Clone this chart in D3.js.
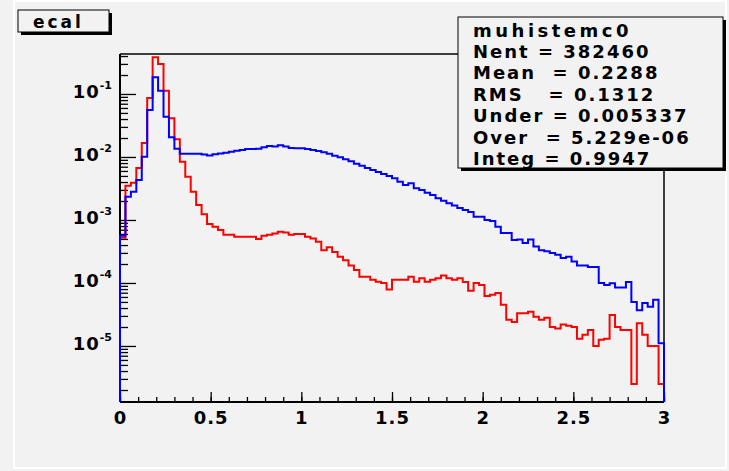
<!DOCTYPE html>
<html>
<head>
<meta charset="utf-8">
<script src="https://cdn.jsdelivr.net/npm/d3@7"></script>
<style>
  body { margin: 0; background: #f2f2f2; }
  svg { display: block; font-family: "DejaVu Sans", sans-serif; font-weight: bold; }
</style>
</head>
<body>
<div id="plot"></div>
<script>
// histogram definition: 100 bins between 0 and 3
const histTitle = "ecal";
const xRange = [0, 3];
const nBins = 100;
const xTickValues = [0, 0.5, 1, 1.5, 2, 2.5, 3];
const xTickLabels = ["0", "0.5", "1", "1.5", "2", "2.5", "3"];
const yDecades = [-1, -2, -3, -4, -5];
const yTickLabels = ["-1", "-2", "-3", "-4", "-5"];

// stats box
const statTitle = "muhistemc0";
const statNames = ["Nent", "Mean ", "RMS  ", "Under", "Over ", "Integ"];
const statValues = ["382460", "0.2288", "0.1312", "0.005337", "5.229e-06", "0.9947"];

// bin contents
const blueCounts = [
  5.6e-4, 2.34e-3, 2.8e-3, 4.3e-3, 0.0101, 0.0557, 0.184, 0.113, 0.0436, 0.0206,
  0.01355, 0.0112, 0.0112, 0.0112, 0.0112, 0.0109, 0.0106, 0.0110, 0.0114, 0.0117,
  0.0121, 0.0126, 0.0129, 0.0134, 0.0134, 0.0135, 0.0143, 0.0149, 0.0146, 0.0153,
  0.0146, 0.0139, 0.0137, 0.0137, 0.0134, 0.0129, 0.0124, 0.0119, 0.0112, 0.0105,
  0.0099, 0.0092, 0.00855, 0.00783, 0.00728, 0.00669, 0.00622, 0.00578, 0.00537, 0.00499,
  0.00459, 0.00406, 0.0036, 0.00383, 0.00318, 0.00299, 0.00271, 0.00249, 0.00221, 0.00202,
  0.00184, 0.00169, 0.00155, 0.00144, 0.00134, 0.00113, 0.00112, 0.0010, 9.6e-4, 7.8e-4,
  6.2e-4, 6.2e-4, 4.8e-4, 4.9e-4, 4.3e-4, 4.9e-4, 3.8e-4, 3.3e-4, 3.2e-4, 3.0e-4,
  2.8e-4, 2.5e-4, 2.6e-4, 2.2e-4, 1.9e-4, 1.9e-4, 1.8e-4, 1.8e-4, 1.0e-4, 9.3e-5,
  9.9e-5, 8.5e-5, 8.5e-5, 1.04e-4, 5.0e-5, 3.7e-5, 4.8e-5, 4.2e-5, 5.4e-5, 1.1e-5
];
const redCounts = [
  5.2e-4, 3.5e-3, 3.9e-3, 6.7e-3, 0.0167, 0.0864, 0.383, 0.30, 0.113, 0.0411,
  0.0191, 0.00842, 0.00487, 0.00281, 0.00173, 0.00123, 8.6e-4, 7.8e-4, 6.9e-4, 5.8e-4,
  5.8e-4, 5.4e-4, 5.4e-4, 5.4e-4, 5.4e-4, 5.0e-4, 5.6e-4, 5.8e-4, 6.1e-4, 6.5e-4,
  6.3e-4, 5.8e-4, 6.0e-4, 6.0e-4, 5.4e-4, 5.1e-4, 4.5e-4, 3.3e-4, 3.7e-4, 3.1e-4,
  2.6e-4, 2.3e-4, 1.9e-4, 1.6e-4, 1.26e-4, 1.26e-4, 1.12e-4, 1.05e-4, 1.0e-4, 7.9e-5,
  1.12e-4, 1.12e-4, 1.12e-4, 1.26e-4, 1.05e-4, 1.19e-4, 1.05e-4, 1.12e-4, 1.19e-4, 1.31e-4,
  1.19e-4, 1.12e-4, 1.19e-4, 1.04e-4, 7.5e-5, 1.0e-4, 9.3e-5, 6.2e-5, 6.5e-5, 6.9e-5,
  4.5e-5, 2.6e-5, 2.4e-5, 3.3e-5, 3.3e-5, 3.5e-5, 2.9e-5, 2.6e-5, 2.8e-5, 2.0e-5,
  1.9e-5, 2.2e-5, 2.1e-5, 2.0e-5, 1.3e-5, 1.5e-5, 1.8e-5, 1.0e-5, 1.25e-5, 1.3e-5,
  3.1e-5, 2.0e-5, 1.8e-5, 1.8e-5, 2.5e-6, 2.3e-5, 1.5e-5, 1.0e-5, 1.0e-5, 2.5e-6
];
const yDomain = [1.29e-6, 0.431];

const W = 729, H = 471;
const margin = {top: 54, right: 65, bottom: 69, left: 120};
const width = W - margin.left - margin.right;
const height = H - margin.top - margin.bottom;

const root = d3.select("#plot").append("svg")
  .attr("width", W).attr("height", H);

root.append("rect").attr("width", W).attr("height", H).attr("fill", "#f2f2f2");
// pad bevel
root.append("rect").attr("x", 14).attr("y", 1).attr("width", 712).attr("height", 467)
  .attr("fill", "none").attr("stroke", "#ffffff").attr("stroke-width", 2);

const svg = root.append("g")
  .attr("transform", "translate(" + margin.left + "," + margin.top + ")");

const x = d3.scaleLinear().domain(xRange).range([0, width]);
const y = d3.scaleLog().domain(yDomain).range([height, 0]);

// minor x ticks
svg.append("g")
  .attr("transform", "translate(0," + height + ")")
  .call(d3.axisBottom(x).ticks(30).tickSize(-5).tickFormat(""))
  .call(g => g.select(".domain").remove());

// major x ticks + labels
svg.append("g")
  .attr("transform", "translate(0," + height + ")")
  .call(d3.axisBottom(x).tickValues(xTickValues).tickSize(-10).tickPadding(9)
    .tickFormat((d, i) => xTickLabels[i]))
  .call(g => g.select(".domain").remove())
  .selectAll("text")
  .attr("font-family", "DejaVu Sans").attr("font-weight", "bold")
  .attr("font-size", 18).attr("letter-spacing", 1).attr("fill", "#000");

// minor y ticks
const yMajors = yDecades.map(e => Math.pow(10, e));
svg.append("g")
  .call(d3.axisLeft(y).tickValues(y.ticks().filter(t => !yMajors.some(m => Math.abs(t / m - 1) < 1e-6)))
    .tickSize(-8).tickFormat(""))
  .call(g => g.select(".domain").remove());

// major y ticks + labels 10^n
const yAxis = svg.append("g")
  .call(d3.axisLeft(y).tickValues(yMajors).tickSize(-16).tickPadding(8).tickFormat(""))
  .call(g => g.select(".domain").remove());
yAxis.selectAll(".tick text")
  .attr("font-family", "DejaVu Sans").attr("font-weight", "bold").attr("fill", "#000")
  .each(function(d, i) {
    const t = d3.select(this);
    t.append("tspan").attr("font-size", 18).attr("letter-spacing", 1).text("10");
    t.append("tspan").attr("font-size", 11).attr("dy", "-9").text(yTickLabels[i]);
  });

svg.selectAll(".tick line").attr("stroke", "#000").attr("stroke-width", 1.3);

// frame
svg.append("line").attr("x1", 0).attr("x2", width).attr("y1", height).attr("y2", height)
  .attr("stroke", "#000").attr("stroke-width", 2);
svg.append("line").attr("x1", 0).attr("x2", 0).attr("y1", 0).attr("y2", height)
  .attr("stroke", "#000").attr("stroke-width", 2);
svg.append("line").attr("x1", 0).attr("x2", width).attr("y1", 0).attr("y2", 0)
  .attr("stroke", "#000").attr("stroke-width", 1.5);
svg.append("line").attr("x1", width).attr("x2", width).attr("y1", 0).attr("y2", height)
  .attr("stroke", "#000").attr("stroke-width", 1.5);

// histograms as step outlines
const edges = d3.range(nBins + 1).map(i => xRange[0] + i * (xRange[1] - xRange[0]) / nBins);
function histPoints(vals) {
  const pts = [[edges[0], yDomain[0]]];
  vals.forEach((v, i) => { pts.push([edges[i], v]); pts.push([edges[i + 1], v]); });
  pts.push([edges[nBins], yDomain[0]]);
  return pts;
}
const line = d3.line().x(d => x(d[0])).y(d => y(d[1]));

svg.append("path").datum(histPoints(redCounts))
  .attr("d", line).attr("fill", "none").attr("stroke", "#ff0000").attr("stroke-width", 2);
svg.append("path").datum(histPoints(blueCounts))
  .attr("d", line).attr("fill", "none").attr("stroke", "#0000ff").attr("stroke-width", 2);

// title pave
function pave(x0, y0, w, h) {
  root.append("rect").attr("x", x0 + 3).attr("y", y0 + 3).attr("width", w).attr("height", h).attr("fill", "#000");
  root.append("rect").attr("x", x0).attr("y", y0).attr("width", w).attr("height", h)
    .attr("fill", "#f2f2f2").attr("stroke", "#000").attr("stroke-width", 1);
}
pave(18, 10, 91, 22);
root.append("text").attr("x", 33).attr("y", 28).attr("font-size", 17)
  .attr("letter-spacing", 3).text(histTitle);

// stats pave
pave(458, 17, 265, 151);
const statLines = [statTitle].concat(statNames.map((n, i) => n + " = " + statValues[i]));
root.append("g").selectAll("text").data(statLines).enter().append("text")
  .attr("x", 473).attr("y", (d, i) => 36.5 + i * 21.4)
  .attr("font-size", 18).attr("letter-spacing", (d, i) => i === 0 ? 3.5 : 2)
  .style("white-space", "pre")
  .text(d => d);
</script>
</body>
</html>
